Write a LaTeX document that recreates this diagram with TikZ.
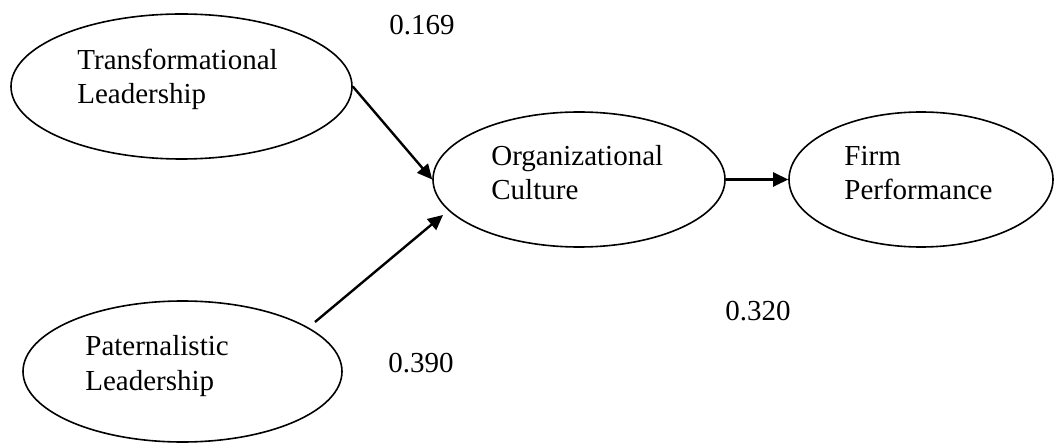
\documentclass[tikz,border=0pt]{standalone}
\usepackage{fontspec}
\setmainfont{Liberation Serif}
\usetikzlibrary{shapes.geometric, arrows.meta}
\begin{document}
\begin{tikzpicture}[x=0.5pt, y=-0.5pt,
    latent/.style={draw, ellipse, line width=0.8pt, inner sep=0pt},
    lbl/.style={inner sep=0pt, anchor=base west, align=left, font=\fontsize{14.5}{17.25}\selectfont},
    link/.style={line width=1.2pt, -{Triangle[length=7.5pt, width=7pt]}}]
      \useasboundingbox (0,0) rectangle (1054,443);
      \def\midy{179.5}
      % -------------------------------------------- constructs
      % set the ellipses
      \node[latent, minimum width=170.5pt, minimum height=72.5pt] at (181.5, 86.5) (tl) {};
      \node[latent, minimum width=159.5pt, minimum height=70.5pt] at (182.5, 371.5) (pl) {};
      \node[latent, minimum width=146pt, minimum height=67.5pt] at (579, \midy) (oc) {};
      \node[latent, minimum width=132pt, minimum height=67.5pt] at (921, \midy) (fp) {};
      % texts inside (base = last line)
      \node[lbl] at (77, 104)  (tl_txt) {Transformational\\Leadership};
      \node[lbl] at (85, 390)  (pl_txt) {Paternalistic\\Leadership};
      \node[lbl] at (491, 200) (oc_txt) {Organizational\\Culture};
      \node[lbl] at (844, 200) (fp_txt) {Firm\\Performance};
      % -------------------------------------------- paths
      \coordinate (pl_out) at (315, 322);
      \coordinate (oc_in) at (443, 215);
      \draw[link] (tl.east) -- (oc.west);
      \draw[link] (pl_out) -- (oc_in);
      \draw[link] (oc.east) -- (fp.west);
      % -------------------------------------------- coefficients
      \node[lbl] at (389, 35)  (c_tl) {0.169};
      \node[lbl] at (388, 372) (c_pl) {0.390};
      \node[lbl] at (725, 320) (c_oc) {0.320};
\end{tikzpicture}
\end{document}
